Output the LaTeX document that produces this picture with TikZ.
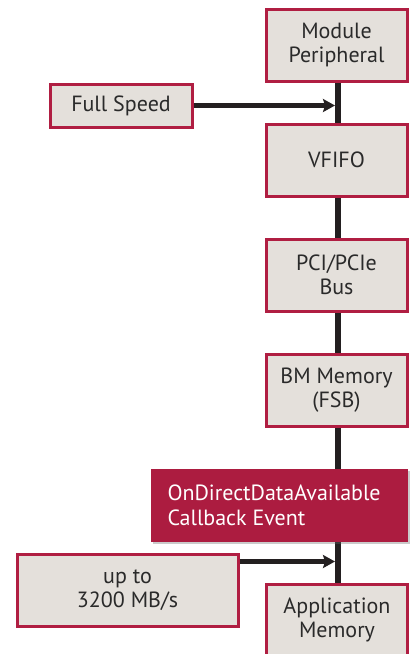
\documentclass[tikz,border=0pt]{standalone}
\usepackage{fontspec}
\setmainfont{PT Sans}
\usetikzlibrary{shadows,arrows.meta,backgrounds}
\definecolor{crim}{HTML}{B01E42}
\definecolor{boxfill}{HTML}{E4E0DB}
\definecolor{redfill}{HTML}{AC1C40}
\definecolor{ink}{HTML}{231F20}
\definecolor{txt}{HTML}{2A2A2A}
\tikzset{
  stagebox/.style={draw=crim, line width=3pt, fill=boxfill, text=txt,
    drop shadow={shadow xshift=1.5pt, shadow yshift=-1.8pt, opacity=0.35, fill=black!60},
    align=center, inner sep=0pt, font=\fontsize{22}{24.5}\selectfont,
    minimum width=141pt, minimum height=72pt},
  eventbox/.style={fill=redfill, text=white, align=left, inner sep=0pt,
    drop shadow={shadow xshift=1.5pt, shadow yshift=-1.8pt, opacity=0.35, fill=black!60},
    font=\fontsize{22}{25}\selectfont, minimum width=257pt, minimum height=73pt},
  flow/.style={draw=ink, line width=5.5pt},
  feed/.style={draw=ink, line width=4.5pt, -{Stealth[length=12pt,width=13pt,inset=2pt]}}
}
\begin{document}
\begin{tikzpicture}[x=1pt,y=1pt]
\useasboundingbox (0,0) rectangle (411,-654);
\node[stagebox] (mod) at (336.5,-45) {Module\\Peripheral};
\node[stagebox, minimum width=142pt, minimum height=43pt] (fs) at (121,-105.5) {Full Speed};
\node[stagebox] (vfifo) at (336.5,-160) {VFIFO};
\node[stagebox] (pci) at (336.5,-275) {PCI/PCIe\\Bus};
\node[stagebox] (bm) at (336.5,-390) {BM Memory\\(FSB)};
\node[eventbox] (cb) at (279.5,-505.5) {\hspace*{14pt}\parbox{238pt}{OnDirectDataAvailable\\Callback Event}};
\node[stagebox, minimum width=221pt] (up) at (127.5,-590) {up to\\3200 MB/s};
\node[stagebox] (app) at (337,-620) {Application\\Memory};
\coordinate (spine) at ([xshift=1.5pt]mod.south);
\coordinate (upout) at ([yshift=-9pt]up.north east);
\begin{scope}[on background layer]
\draw[flow] (spine) -- (spine |- app.north);
\end{scope}
\draw[feed, shorten >=3pt] (fs.east) -- (fs.east -| spine);
\draw[feed, shorten >=3pt] (upout) -- (upout -| spine);
\end{tikzpicture}
\end{document}
